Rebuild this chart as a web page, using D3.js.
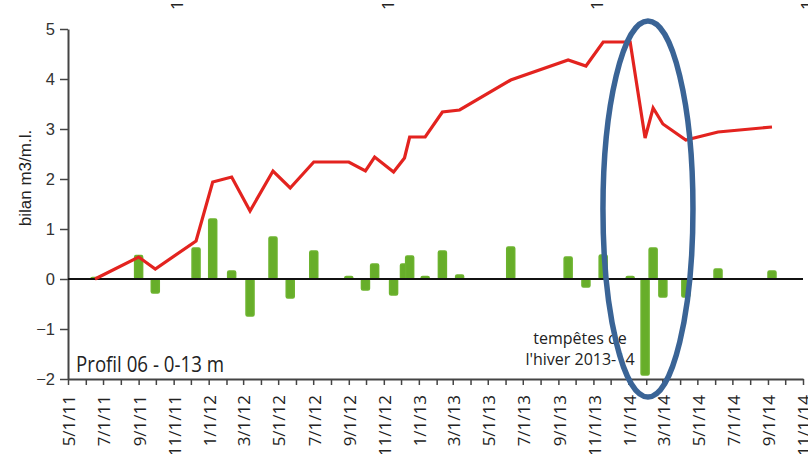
<!DOCTYPE html>
<html><head><meta charset="utf-8">
<script src="https://cdn.jsdelivr.net/npm/d3@7"></script>
<style>html,body{margin:0;padding:0;background:#fff;overflow:hidden}</style>
</head><body><svg id="c" width="808" height="454"></svg>
<script>
// ---- data ----
const surveyDates = ["2011-06-17","2011-09-01","2011-09-30","2011-12-10","2012-01-08","2012-02-10","2012-03-13","2012-04-22","2012-05-22","2012-07-02","2012-09-01","2012-09-30","2012-10-16","2012-11-18","2012-12-07","2012-12-16","2013-01-12","2013-02-11","2013-03-13","2013-06-10","2013-09-18","2013-10-19","2013-11-18","2014-01-04","2014-01-30","2014-02-13","2014-03-02","2014-04-11","2014-06-06","2014-09-08"];
const bilanCumule = [0, 0.44, 0.2, 0.76, 1.94, 2.04, 1.36, 2.16, 1.82, 2.34, 2.34, 2.16, 2.44, 2.14, 2.42, 2.84, 2.84, 3.34, 3.38, 3.98, 4.38, 4.26, 4.74, 4.74, 2.82, 3.42, 3.1, 2.78, 2.94, 3.04];
const variation = [0.03, 0.47, -0.28, 0.62, 1.2, 0.16, -0.74, 0.84, -0.38, 0.56, 0.05, -0.22, 0.3, -0.32, 0.3, 0.46, 0.05, 0.56, 0.08, 0.64, 0.44, -0.16, 0.48, 0.05, -1.92, 0.62, -0.36, -0.36, 0.2, 0.16];
const yTicks = [-2, -1, 0, 1, 2, 3, 4, 5];
const xDomain = ["2011-05-01", "2014-11-01"];
const yLabel = "bilan m3/m.l.";
const profileLabel = "Profil 06 - 0-13 m";
const noteLines = ["tempêtes de", "l'hiver 2013-14"];
const highlight = ["2014-01-01", "2014-03-10"]; // period circled (winter storms)

// ---- drawing ----
const parse = d3.utcParse("%Y-%m-%d");
const fmt = d3.utcFormat("%-m/%-d/%y");
const svg = d3.select("#c");
svg.append("rect").attr("width", 808).attr("height", 454).attr("fill", "#fff");

const x = d3.scaleUtc().domain(xDomain.map(parse)).range([68, 803]);
const y = d3.scaleLinear().domain([-2, 5]).range([379, 29]);
const months = d3.utcMonth.range(parse(xDomain[0]), d3.utcDay.offset(parse(xDomain[1]), 1));
const labelFmt = d => (d.getUTCMonth() % 2 === 0 ? fmt(d) : "");

// fragments of the November tick labels of the chart above (cut by the top edge)
const frag = svg.append("g").attr("transform", "translate(3,-446)");
frag.selectAll("text").data(months.filter(d => d.getUTCMonth() === 10)).join("text")
  .attr("transform", d => `translate(${x(d)},379) rotate(-90)`)
  .attr("x", -16).attr("dy", "0.4em").attr("text-anchor", "end")
  .attr("font-family", "'Open Sans', sans-serif").attr("font-size", 17).attr("fill", "#222")
  .text(fmt);

// y axis
const gy = svg.append("g").attr("transform", "translate(68,0)")
  .call(d3.axisLeft(y).tickValues(yTicks).tickSize(8).tickSizeOuter(0).tickPadding(5).tickFormat(d3.format("d")));
gy.select(".domain").attr("stroke", "#444").attr("stroke-width", 2);
gy.selectAll(".tick line").attr("stroke", "#444").attr("stroke-width", 1.5);
gy.selectAll(".tick text").attr("font-family", "'Liberation Sans', Arial, sans-serif").attr("font-size", 16.5).attr("fill", "#333");

// x axis
const gx = svg.append("g").attr("transform", "translate(0,379)")
  .call(d3.axisBottom(x).tickValues(months).tickSize(6).tickSizeOuter(0).tickFormat(labelFmt));
gx.select(".domain").attr("stroke", "#444").attr("stroke-width", 2);
gx.selectAll(".tick line").attr("stroke", "#444").attr("stroke-width", 1.5);
gx.selectAll(".tick text")
  .attr("transform", "rotate(-90)").attr("x", -16).attr("y", 0).attr("dy", "0.4em")
  .attr("text-anchor", "end")
  .attr("font-family", "'Open Sans', sans-serif").attr("font-size", 17).attr("fill", "#222");

// y label
svg.append("text").attr("transform", "translate(31,178) rotate(-90)")
  .attr("text-anchor", "middle")
  .attr("font-family", "'Liberation Sans', Arial, sans-serif").attr("font-size", 17).attr("fill", "#222")
  .text(yLabel);

const rows = surveyDates.map((d, i) => ({ date: parse(d), bilan: bilanCumule[i], v: variation[i] }));

// bars
svg.append("g").selectAll("rect").data(rows).join("rect")
  .attr("x", d => x(d.date) - 4).attr("width", 8)
  .attr("y", d => Math.min(y(d.v), y(0)))
  .attr("height", d => Math.abs(y(d.v) - y(0)))
  .attr("rx", 1.5)
  .attr("fill", "#67ae2a").attr("stroke", "#6cb32e").attr("stroke-width", 1.5).attr("stroke-linejoin", "round");

// zero line
svg.append("line").attr("x1", x.range()[0]).attr("x2", x.range()[1])
  .attr("y1", y(0)).attr("y2", y(0)).attr("stroke", "#111").attr("stroke-width", 1.8);

// cumulative line
svg.append("path").datum(rows)
  .attr("d", d3.line().x(d => x(d.date)).y(d => y(d.bilan)))
  .attr("fill", "none").attr("stroke", "#e3231f").attr("stroke-width", 3.2).attr("stroke-linejoin", "miter");

// texts
svg.append("text").attr("x", 76).attr("y", 372)
  .attr("font-family", "'Open Sans', sans-serif").attr("font-size", 21).attr("fill", "#222")
  .attr("textLength", 148).attr("lengthAdjust", "spacingAndGlyphs")
  .text(profileLabel);
svg.append("g").selectAll("text").data(noteLines).join("text")
  .attr("x", 580).attr("y", (d, i) => 344 + i * 21).attr("text-anchor", "middle")
  .attr("font-family", "'Open Sans', sans-serif").attr("font-size", 16).attr("fill", "#222")
  .text(d => d);

// highlight ellipse
const h0 = x(parse(highlight[0])), h1 = x(parse(highlight[1]));
svg.append("ellipse").attr("cx", (h0 + h1) / 2).attr("cy", 209).attr("rx", 45).attr("ry", 188)
  .attr("fill", "none").attr("stroke", "#3a6496").attr("stroke-width", 5.5);
</script>
</body></html>
